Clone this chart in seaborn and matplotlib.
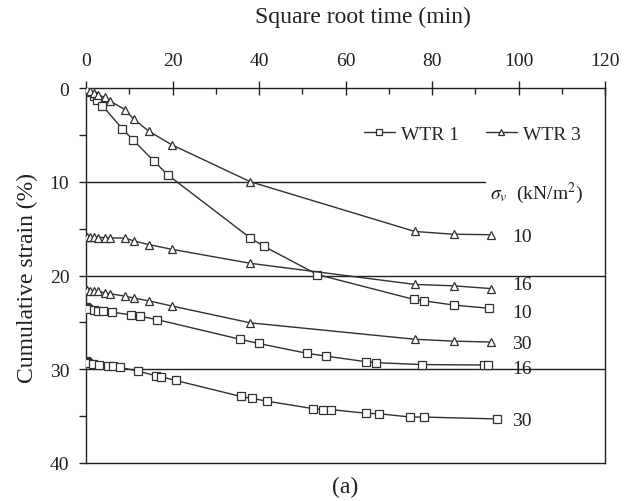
import numpy as np
import pandas as pd
import matplotlib
matplotlib.use('Agg')
import matplotlib.pyplot as plt
from matplotlib.ticker import MultipleLocator
from matplotlib.lines import Line2D
import seaborn as sns

# data (square root time vs cumulative strain)
x_wtr1_10 = [0, 0.5, 1.0, 1.85, 2.5, 3.8, 8.4, 10.8, 15.7, 19.0, 38.0, 41.2, 53.5, 75.8, 78.1, 85.0, 93.2]
y_wtr1_10 = [0, 0.2, 0.4, 0.9, 1.3, 1.9, 4.35, 5.5, 7.8, 9.3, 16.0, 16.9, 19.9, 22.55, 22.7, 23.15, 23.5]

x_wtr1_16 = [0, 0.3, 0.55, 1.85, 2.85, 4.0, 5.9, 10.3, 12.5, 16.4, 35.6, 39.9, 51.1, 55.5, 64.8, 67.0, 77.7, 92.0, 92.9]
y_wtr1_16 = [23.4, 23.5, 23.6, 23.7, 23.75, 23.8, 23.9, 24.2, 24.35, 24.7, 26.8, 27.25, 28.3, 28.6, 29.2, 29.3, 29.5, 29.55, 29.55]

x_wtr1_30 = [0, 0.3, 0.55, 1.7, 3.1, 5.2, 6.3, 7.9, 12.1, 16.2, 17.3, 20.8, 35.8, 38.3, 41.8, 52.5, 54.9, 56.6,
             64.8, 67.8, 75.0, 78.1, 95.0]
y_wtr1_30 = [29.1, 29.2, 29.3, 29.4, 29.5, 29.6, 29.65, 29.8, 30.2, 30.7, 30.8, 31.2, 32.9, 33.1, 33.4, 34.2, 34.3, 34.3,
             34.7, 34.75, 35.1, 35.1, 35.3]

x_wtr3 = [0, 0.3, 0.9, 1.85, 2.85, 4.4, 5.6, 9.0, 11.0, 14.5, 19.8, 38.0, 76.0, 85.0, 93.75]
y_wtr3_10 = [0, 0.15, 0.3, 0.5, 0.75, 1.0, 1.4, 2.3, 3.3, 4.6, 6.05, 10.0, 15.3, 15.6, 15.65]
y_wtr3_16 = [15.9, 15.9, 15.9, 15.9, 15.95, 15.95, 16.0, 16.0, 16.3, 16.7, 17.2, 18.7, 20.95, 21.1, 21.4]
y_wtr3_30 = [21.5, 21.55, 21.6, 21.65, 21.7, 21.85, 21.95, 22.2, 22.4, 22.7, 23.25, 25.05, 26.8, 27.0, 27.1]

stress_labels = ['10', '16', '10', '30', '16', '30']
stress_label_y = [15.8, 21.0, 23.9, 27.2, 29.9, 35.5]

sns.set_theme(style='white')
plt.rcParams['font.family'] = ['Liberation Serif', 'DejaVu Serif']
plt.rcParams['mathtext.fontset'] = 'stix'

fig = plt.figure(figsize=(6.31, 5.02), dpi=100)
ax = fig.add_axes([0.1363, 0.0757, 0.8225, 0.747])

col = '#303030'
txt = '#202020'
sq = dict(marker='s', markersize=5.5, markerfacecolor='white', markeredgecolor=col, markeredgewidth=0.9)
tr = dict(marker='^', markersize=5.5, markerfacecolor='white', markeredgecolor=col, markeredgewidth=0.9)

curves = [(x_wtr1_10, y_wtr1_10, sq), (x_wtr1_16, y_wtr1_16, sq), (x_wtr1_30, y_wtr1_30, sq),
          (x_wtr3, y_wtr3_10, tr), (x_wtr3, y_wtr3_16, tr), (x_wtr3, y_wtr3_30, tr)]
for xs, ys, mk in curves:
    sns.lineplot(x=xs, y=ys, ax=ax, color=col, linewidth=1.0, sort=False, estimator=None, zorder=3, **mk)

# horizontal lines at 10, 20, 30 (the one at 10 stops at the sigma label)
ax.axhline(10, xmax=0.769, color=txt, linewidth=1.0, zorder=2)
ax.axhline(20, color=txt, linewidth=1.0, zorder=2)
ax.axhline(30, color=txt, linewidth=1.0, zorder=2)

ax.set_xlim(0, 120)
ax.set_ylim(40, 0)
ax.xaxis.tick_top()
ax.xaxis.set_major_locator(MultipleLocator(20))
ax.xaxis.set_minor_locator(MultipleLocator(10))
ax.yaxis.set_major_locator(MultipleLocator(10))
ax.yaxis.set_minor_locator(MultipleLocator(5))
ax.tick_params(axis='x', which='major', direction='inout', length=10, width=1, labelsize=14, pad=9, colors=txt)
ax.tick_params(axis='x', which='minor', direction='in', length=4, width=1, top=True, bottom=False)
ax.tick_params(axis='y', which='major', direction='out', length=5, width=1, labelsize=14, pad=7, left=True, colors=txt)
ax.tick_params(axis='y', which='minor', direction='out', length=5, width=1, left=True)
for s in ax.spines.values():
    s.set_color(txt)
    s.set_linewidth(1.0)

fig.text(363 / 631, 1 - 17 / 502, 'Square root time (min)', fontsize=17, ha='center', va='center', color=txt)
fig.text(27 / 631, 1 - 278 / 502, 'Cumulative strain (%)', fontsize=17, rotation=90,
         ha='center', va='center', color=txt)

# legend
handles = [Line2D([], [], color=col, linewidth=1.0, **sq), Line2D([], [], color=col, linewidth=1.0, **tr)]
ax.legend(handles, ['WTR 1', 'WTR 3'], loc='center', bbox_to_anchor=(0.744, 0.877), ncol=2, frameon=False,
          fontsize=14, handlelength=1.6, columnspacing=1.4, handletextpad=0.3, markerscale=0.75)

ax.text(93.3, 11.1, r'$\sigma_v$  (kN/m$^2$)', fontsize=14, ha='left', va='center', color=txt, zorder=4)

for lab, yy in zip(stress_labels, stress_label_y):
    ax.text(98.5, yy, lab, fontsize=14, ha='left', va='center', color=txt, zorder=1)

fig.text(0.547, 0.028, '(a)', fontsize=17, ha='center', va='center', color=txt)

plt.savefig('out.png', dpi=100)
